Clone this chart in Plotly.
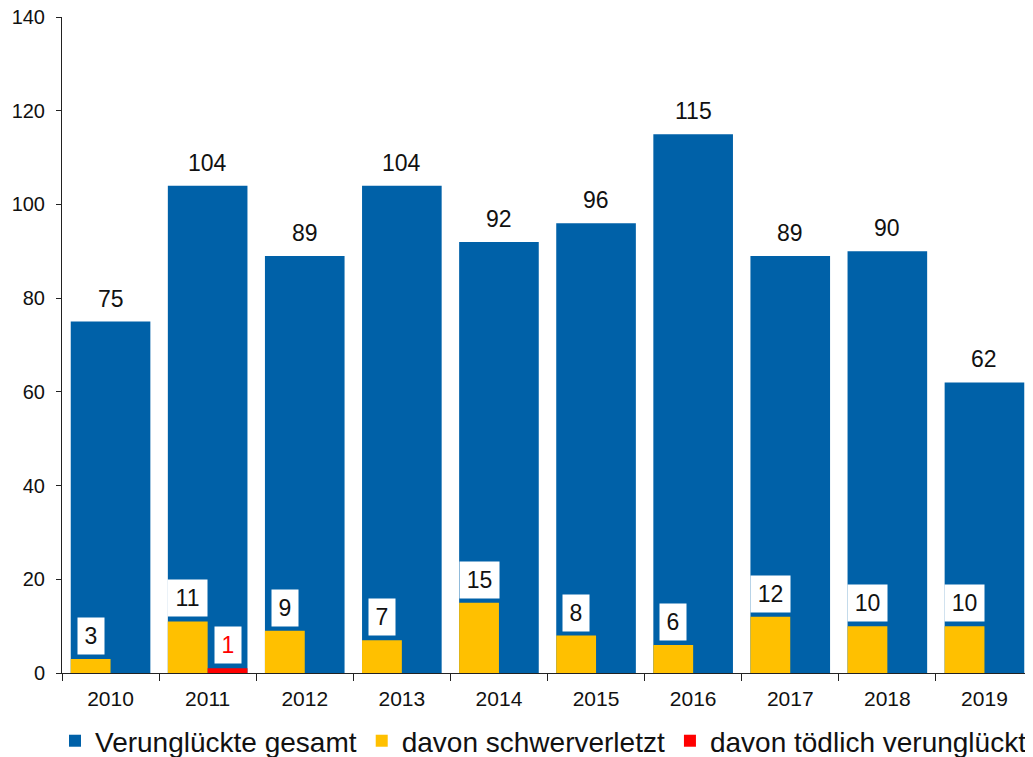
import plotly.graph_objects as go

years = ["2010", "2011", "2012", "2013", "2014", "2015", "2016", "2017", "2018", "2019"]
gesamt = [75, 104, 89, 104, 92, 96, 115, 89, 90, 62]
schwer = [3, 11, 9, 7, 15, 8, 6, 12, 10, 10]
toedlich = [0, 1, 0, 0, 0, 0, 0, 0, 0, 0]

BLUE = "#0061A8"
YELLOW = "#FFC000"
RED = "#FF0000"
TXT = "#111111"
FONT = "Liberation Sans, Arial, sans-serif"

fig = go.Figure()
fig.add_trace(go.Bar(x=years, y=gesamt, name="Verunglückte gesamt", marker_color=BLUE,
                     width=0.82, offset=-0.41, marker_line_width=0))
fig.add_trace(go.Bar(x=years, y=schwer, name="davon schwerverletzt", marker_color=YELLOW,
                     width=0.41, offset=-0.41, marker_line_width=0))
fig.add_trace(go.Bar(x=years, y=toedlich, name="davon tödlich verunglückt", marker_color=RED,
                     width=0.41, offset=0.0, marker_line_width=0))

LBL = 23
ann = []
for i, v in enumerate(gesamt):
    ann.append(dict(x=i, y=v, text=str(v), showarrow=False, yanchor="bottom", yshift=8,
                    font=dict(size=LBL, color=TXT, family=FONT)))
for i, v in enumerate(schwer):
    ann.append(dict(x=i - 0.205, y=v, text=str(v), showarrow=False, yanchor="bottom", yshift=4,
                    bgcolor="white", borderpad=5, width=len(str(v)) * 13 + 3,
                    font=dict(size=LBL, color=TXT, family=FONT)))
for i, v in enumerate(toedlich):
    if v:
        ann.append(dict(x=i + 0.205, y=v, text=str(v), showarrow=False, yanchor="bottom", yshift=4,
                        bgcolor="white", borderpad=5, width=len(str(v)) * 13 + 3,
                        font=dict(size=LBL, color=RED, family=FONT)))

# page has an 8px body margin, so the figure is sized/placed to compensate
fig.update_layout(
    width=1025, height=749,
    margin=dict(l=54, r=0, t=9, b=84, autoexpand=False),
    plot_bgcolor="white", paper_bgcolor="white",
    barmode="overlay",
    font=dict(family=FONT, color=TXT),
    showlegend=True,
    legend=dict(orientation="h", x=-0.0072, xanchor="left", y=-0.1037, yanchor="middle",
                font=dict(size=28, family=FONT, color=TXT),
                itemwidth=30, bgcolor="rgba(0,0,0,0)"),
    annotations=ann,
)
fig.update_xaxes(type="category", range=[-0.5, 9.5], showline=True, linecolor="#222222",
                 linewidth=1, ticks="outside", tickson="boundaries", ticklen=7,
                 tickcolor="#222222", tickfont=dict(size=21, color=TXT), showgrid=False,
                 ticklabelstandoff=7)
fig.update_yaxes(range=[0, 140], dtick=20, showline=True, linecolor="#222222", linewidth=1,
                 ticks="outside", ticklen=5, tickcolor="#222222", tickfont=dict(size=20, color=TXT),
                 showgrid=False, zeroline=False, ticklabeloverflow="allow",
                 ticklabelstandoff=7)

fig.write_html("out.html")
